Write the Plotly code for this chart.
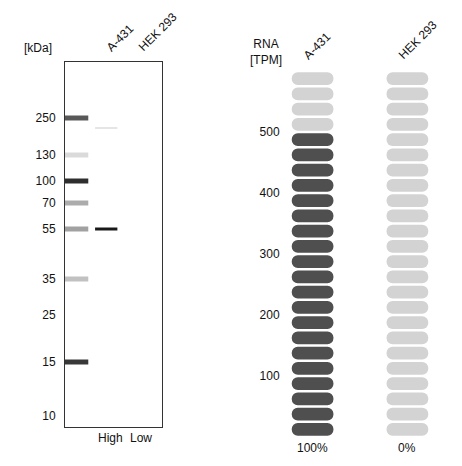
import plotly.graph_objects as go

# western blot: marker ladder (kDa) and their migration positions
marker_kda = ["250", "130", "100", "70", "55", "35", "25", "15", "10"]
marker_pos = [118, 155, 181, 203, 229, 279, 315, 362, 416]
# ladder band strength (0..1), 25 and 10 show no band
ladder_int = [0.7, 0.08, 0.9, 0.3, 0.35, 0.2, 0.0, 0.85, 0.0]
# sample bands: lane, position, strength
band_lane = ["A-431", "A-431"]
band_pos = [229, 128]
band_int = [1.0, 0.15]
lanes = ["A-431", "HEK 293"]
lane_expr = ["High", "Low"]

# RNA expression
rna_cells = ["A-431", "HEK 293"]
rna_tpm = [500, 0]
rna_pct = ["100%", "0%"]
tpm_ticks = [100, 200, 300, 400, 500]
pill_step = 25
n_pills = 24

W, H = 462, 466
OFF = 8  # page body margin
font = dict(family="Liberation Sans, Arial", size=12, color="#111")
fig = go.Figure()

def gray(v):
    g = int(235 - 210 * v)
    return f"rgb({g},{g},{g})"

lane_x = {"A-431": (0.31, 0.54), "HEK 293": (0.65, 0.9)}
for p, v in zip(marker_pos, ladder_int):
    if v > 0:
        fig.add_trace(go.Scatter(x=[0.0, 0.24], y=[p, p], mode="lines",
                                 line=dict(color=gray(v), width=5),
                                 xaxis="x", yaxis="y", hoverinfo="skip"))
for ln, p, v in zip(band_lane, band_pos, band_int):
    x0, x1 = lane_x[ln]
    fig.add_trace(go.Scatter(x=[x0, x1], y=[p, p], mode="lines",
                             line=dict(color=gray(v), width=3 if v > 0.5 else 1),
                             xaxis="x", yaxis="y", hoverinfo="skip"))

# RNA pills
for i, (c, v) in enumerate(zip(rna_cells, rna_tpm)):
    bases = [k * pill_step + 2 for k in range(n_pills)]
    cols = ["#4f4f4f" if (k + 1) * pill_step <= v else "#d3d3d3" for k in range(n_pills)]
    fig.add_trace(go.Bar(x=[c] * n_pills, y=[pill_step - 4] * n_pills, base=bases,
                         marker=dict(color=cols, line=dict(width=0)), width=0.44,
                         xaxis="x2", yaxis="y2", hoverinfo="skip"))

def px(x): return (x - OFF) / W
def py(y): return 1 - (y - OFF) / H

fig.update_layout(
    width=W, height=H, margin=dict(l=0, r=0, t=0, b=0),
    paper_bgcolor="white", plot_bgcolor="white", showlegend=False,
    font=font, barmode="overlay", barcornerradius=7,
    xaxis=dict(domain=[px(65), px(162)], range=[0, 1], showticklabels=False,
               showgrid=False, zeroline=False, mirror=True, showline=True,
               linecolor="#333", linewidth=1, ticks=""),
    yaxis=dict(domain=[py(427), py(62)], range=[427, 62], tickvals=marker_pos,
               ticktext=marker_kda, showgrid=False, zeroline=False, mirror=True,
               showline=True, linecolor="#333", linewidth=1, ticks="outside",
               ticklen=6, tickcolor="white"),
    xaxis2=dict(domain=[px(287), px(433)], range=[-0.27, 1.27], anchor="y2",
                showticklabels=False, showgrid=False, zeroline=False, showline=False),
    yaxis2=dict(domain=[py(437), py(71)], range=[0, 600], anchor="x2",
                tickvals=tpm_ticks, showgrid=False, zeroline=False, showline=False,
                ticks="outside", ticklen=4, tickcolor="white"),
)

ann = [dict(text="[kDa]", x=px(38), y=py(48))]
for ln, xc in zip(lanes, [101, 133]):
    ann.append(dict(text=ln, x=px(xc), y=py(57), textangle=-45, xanchor="left", yanchor="bottom"))
for e, xc in zip(lane_expr, [110, 141]):
    ann.append(dict(text=e, x=px(xc), y=py(438)))
ann.append(dict(text="RNA<br>[TPM]", x=px(266), y=py(52)))
for c, xc in zip(rna_cells, [298, 393]):
    ann.append(dict(text=c, x=px(xc), y=py(65), textangle=-45, xanchor="left", yanchor="bottom"))
for t, xc in zip(rna_pct, [312, 407]):
    ann.append(dict(text=t, x=px(xc), y=py(448)))
for a in ann:
    a.update(xref="paper", yref="paper", showarrow=False, font=font)
    a.setdefault("xanchor", "center")
    a.setdefault("yanchor", "middle")
fig.update_layout(annotations=ann)

fig.write_html("out.html")
